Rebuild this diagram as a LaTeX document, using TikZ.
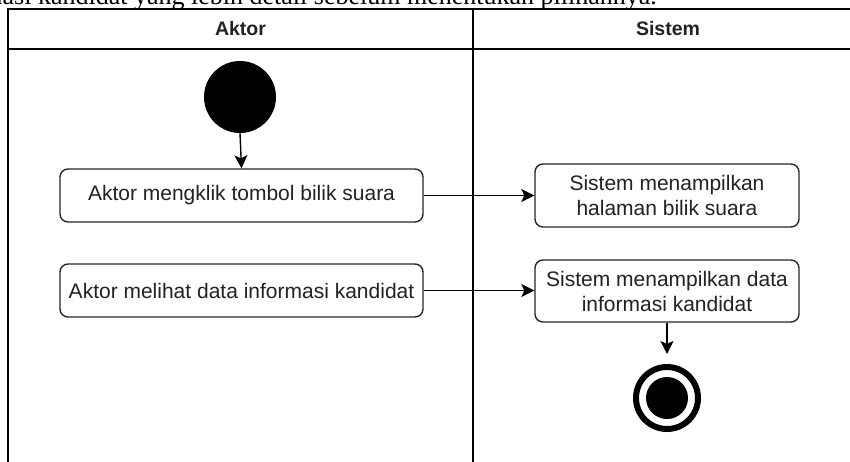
\documentclass[tikz,border=0pt]{standalone}
\usepackage{fontspec}
\setmainfont{Liberation Sans}
\newfontfamily\serifcut{Liberation Serif}
\usetikzlibrary{arrows.meta}
\definecolor{txt}{HTML}{222222}
\tikzset{
  lane/.style={draw=black, line width=1.6pt},
  actbox/.style={draw=black!85, line width=1.4pt, rounded corners=8pt, fill=white,
    align=center, inner sep=2pt, text=txt,
    font=\fontsize{21}{25}\selectfont},
  hdr/.style={font=\bfseries\fontsize{19.5}{23}\selectfont, text=txt, inner sep=0pt},
  flow/.style={draw=black, line width=1.4pt, -{Stealth[length=13pt,width=13pt,inset=3pt]}},
}
\begin{document}
\begin{tikzpicture}[x=1pt,y=-1pt]
\useasboundingbox (0,0) rectangle (850,461);
\clip (0,0) rectangle (850,461);
% cut-off text line above the diagram
\node[anchor=base east, inner sep=0pt, font=\serifcut\fontsize{26}{30}\selectfont] (cuttext) at (657,4.5)
  {informasi kandidat yang lebih detail sebelum menentukan pilihannya.};
% swimlane table
\draw[lane] (8,470) -- (8,9) -- (870,9);
\draw[lane] (8,49) -- (870,49);
\draw[lane] (473,9) -- (473,470);
\node[hdr] (haktor) at (240.5,29) {Aktor};
\node[hdr] (hsistem) at (668,29) {Sistem};
% start
\node[circle, fill=black, minimum size=72pt, inner sep=0pt] (start) at (240,97) {};
% actions
\node[actbox, minimum width=363pt, minimum height=53pt] (a1) at (241.5,195.5) {Aktor mengklik tombol bilik suara};
\node[actbox, minimum width=363pt, minimum height=53pt] (a2) at (241.5,290.5) {Aktor melihat data informasi kandidat};
\node[actbox, minimum width=264pt, minimum height=63pt] (s1) at (667,195.5) {Sistem menampilkan\\halaman bilik suara};
\node[actbox, minimum width=264pt, minimum height=62pt] (s2) at (667,291) {Sistem menampilkan data\\informasi kandidat};
% end
\node[circle, draw=black, line width=6pt, minimum size=62pt, inner sep=0pt] (end) at (667,398) {};
\node[circle, fill=black, minimum size=42pt, inner sep=0pt] (endin) at (667,398) {};
% flows
\draw[flow] (start.south) -- (a1.north);
\draw[flow] (a1.east) -- (s1.west);
\draw[flow] (a2.east) -- (a2.east -| s2.west);
\draw[flow, shorten >=10pt] (s2.south) -- (end.north);
\end{tikzpicture}
\end{document}
